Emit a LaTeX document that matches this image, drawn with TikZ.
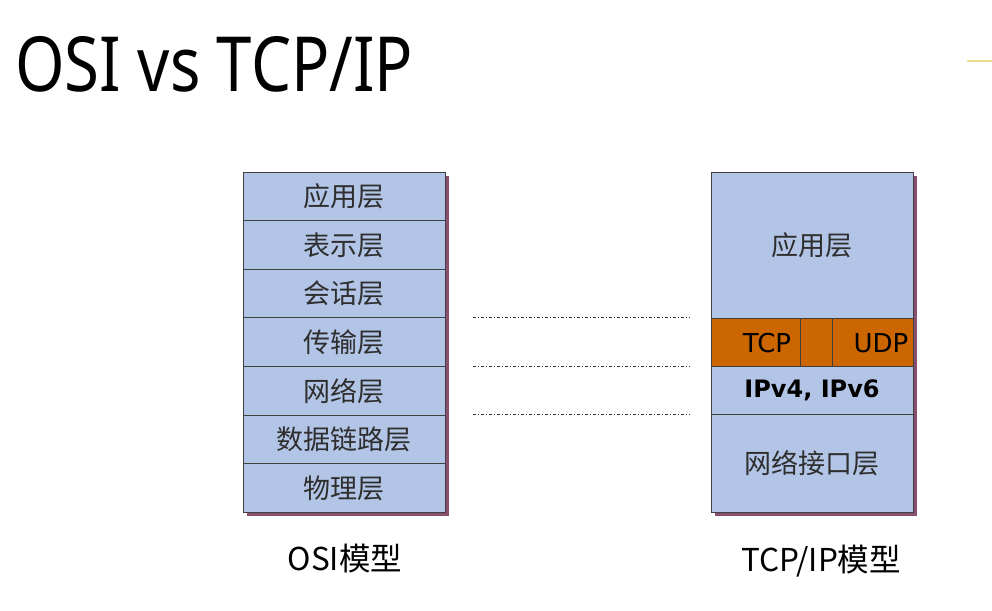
\documentclass[tikz,border=0pt]{standalone}
\usepackage{fontspec}
\setmainfont{Noto Sans}
\newfontfamily\cjk{Noto Sans CJK SC}
\newfontfamily\latinfont{DejaVu Sans}
\definecolor{layerfill}{HTML}{B3C5E6}
\definecolor{transfill}{HTML}{CC6600}
\definecolor{shadowc}{HTML}{8A4E6E}
\definecolor{layertext}{HTML}{2E2E2E}
\definecolor{accent}{HTML}{F0DE8A}
\tikzset{
  layerbox/.style={draw=black!75, line width=0.9pt, fill=layerfill,
    minimum width=202pt, inner sep=0pt, outer sep=0pt,
    text=layertext, font=\cjk\fontsize{27}{30}\selectfont},
  osirow/.style={layerbox, minimum height=48.6pt},
  cellbox/.style={draw=black!75, line width=0.9pt, fill=transfill,
    minimum height=48pt, inner sep=0pt, outer sep=0pt},
  protolabel/.style={font=\latinfont\fontsize{26}{28}\selectfont, text=black},
  modellabel/.style={font=\cjk\fontsize{31.5}{34}\selectfont, text=black},
  mapline/.style={draw=black!80, line width=1pt,
    dash pattern=on 3pt off 2pt on 1pt off 2pt},
  boxshadow/.style={fill=shadowc}
}
\begin{document}
\begin{tikzpicture}[x=1pt,y=-1pt]
\useasboundingbox (0,0) rectangle (992,610);
\fill[white] (0,0) rectangle (992,610);

% heading
\node[anchor=base west, inner sep=0pt, font=\fontsize{76}{80}\selectfont] (title) at (15,92)
  {\resizebox{398pt}{\height}{OSI vs TCP/IP}};
\draw[accent, line width=1.6pt] (967,61) -- (992,61);

% OSI reference model
\fill[boxshadow] (247,176) rectangle (449,516);
\node[osirow] (osi1) at (344,196.3) {应用层};
\node[osirow] (osi2) at (344,244.9) {表示层};
\node[osirow] (osi3) at (344,293.5) {会话层};
\node[osirow] (osi4) at (344,342.1) {传输层};
\node[osirow] (osi5) at (344,390.7) {网络层};
\node[osirow] (osi6) at (344,439.3) {数据链路层};
\node[osirow] (osi7) at (344,487.9) {物理层};
\node[modellabel] (osilabel) at (345,559) {OSI模型};

% TCP/IP model
\fill[boxshadow] (715,176) rectangle (917,516);
\node[layerbox, minimum height=146pt] (app) at (812,245) {应用层};
\node[cellbox, minimum width=89pt] (tcp) at (755.5,342) {};
\node[cellbox, minimum width=32pt] (gap) at (816,342) {};
\node[cellbox, minimum width=81pt] (udp) at (872.5,342) {};
\node[protolabel] (tcptext) at (767,343) {TCP};
\node[protolabel] (udptext) at (881,343) {UDP};
\node[layerbox, minimum height=48pt, font=\latinfont\bfseries\fontsize{24}{28}\selectfont, text=black] (ip) at (812,390) {IPv4, IPv6};
\node[layerbox, minimum height=98pt] (netif) at (812,463) {网络接口层};
\node[modellabel] (tcplabel) at (821,561) {TCP/IP模型};

% layer correspondence guides
\coordinate (g1a) at (473,317);
\coordinate (g1b) at (690,317);
\coordinate (g2a) at (473,366);
\coordinate (g2b) at (690,366);
\coordinate (g3a) at (473,414);
\coordinate (g3b) at (690,414);
\draw[mapline] (g1a) -- (g1b);
\draw[mapline] (g2a) -- (g2b);
\draw[mapline] (g3a) -- (g3b);
\end{tikzpicture}
\end{document}
